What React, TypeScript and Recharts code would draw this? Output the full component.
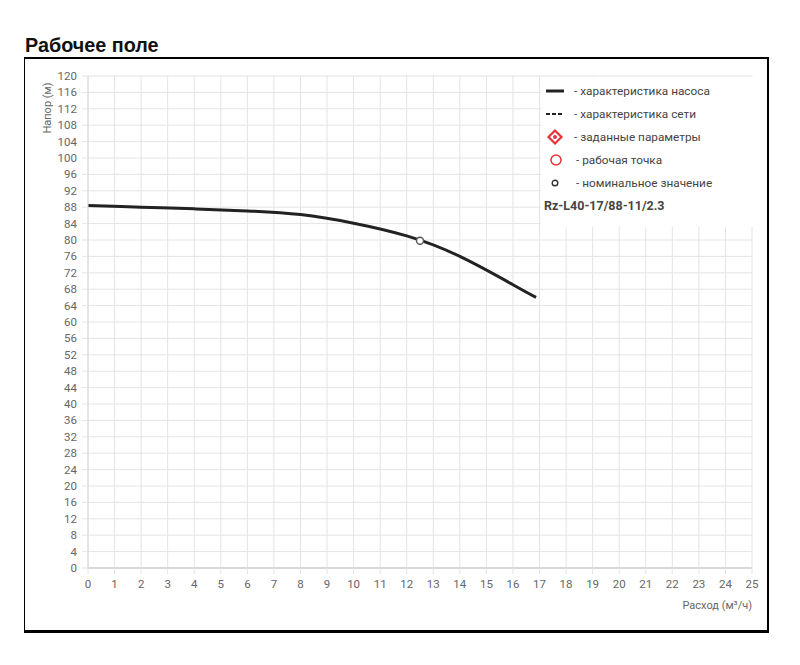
import React from 'react';
import { ComposedChart, Line, Scatter, XAxis, YAxis, CartesianGrid } from 'recharts';

const flowValues = [0, 2, 4, 6, 8, 10, 12, 14, 16, 16.87];
const headValues = [88.4, 88.0, 87.6, 87.1, 86.2, 84.1, 81.0, 76.0, 69.1, 66.0];
const nominalPoint = [{ q: 12.5, h: 79.8 }];
const xTicks = [0, 1, 2, 3, 4, 5, 6, 7, 8, 9, 10, 11, 12, 13, 14, 15, 16, 17, 18, 19, 20, 21, 22, 23, 24, 25];
const yTicks = [0, 4, 8, 12, 16, 20, 24, 28, 32, 36, 40, 44, 48, 52, 56, 60, 64, 68, 72, 76, 80, 84, 88, 92, 96, 100, 104, 108, 112, 116, 120];
const legendLabels = [
  '- характеристика насоса',
  '- характеристика сети',
  '- заданные параметры',
  '- рабочая точка',
  '- номинальное значение',
];
const modelName = 'Rz-L40-17/88-11/2.3';

const pumpData = flowValues.map((q, i) => ({ q, h: headValues[i] }));

const FONT = 'Roboto, "Liberation Sans", Arial, sans-serif';

function LegendIcon({ idx }: { idx: number }) {
  if (idx === 0) {
    return (
      <svg width={22} height={12}>
        <line x1={2} y1={6} x2={20} y2={6} stroke="#222" strokeWidth={3} />
      </svg>
    );
  }
  if (idx === 1) {
    return (
      <svg width={22} height={12}>
        <line x1={2} y1={6} x2={20} y2={6} stroke="#222" strokeWidth={2} strokeDasharray="4 2" />
      </svg>
    );
  }
  if (idx === 2) {
    return (
      <svg width={22} height={16}>
        <polygon points="11,1.5 17.5,8 11,14.5 4.5,8" fill="#fff" stroke="#e8323c" strokeWidth={2.2} />
        <circle cx={11} cy={8} r={2} fill="#e8323c" />
      </svg>
    );
  }
  if (idx === 3) {
    return (
      <svg width={22} height={14}>
        <circle cx={12} cy={7} r={5} fill="none" stroke="#e8323c" strokeWidth={1.5} />
      </svg>
    );
  }
  return (
    <svg width={22} height={12}>
      <circle cx={11} cy={6} r={2.8} fill="none" stroke="#333" strokeWidth={1.4} />
    </svg>
  );
}

function LegendBox() {
  return (
    <div
      style={{
        position: 'absolute',
        left: 541,
        top: 77,
        background: '#fff',
        width: 214,
        height: 150,
        boxSizing: 'border-box',
        paddingLeft: 3,
        paddingTop: 2,
        fontFamily: FONT,
      }}
    >
      {legendLabels.map((t, i) => (
        <div key={i} style={{ display: 'flex', alignItems: 'center', height: 23.2 }}>
          <div style={{ width: 30, display: 'flex' }}>
            <LegendIcon idx={i} />
          </div>
          <span style={{ fontSize: 11.8, color: '#444', marginLeft: i === 3 || i === 4 ? 2 : 0 }}>{t}</span>
        </div>
      ))}
      <div style={{ fontSize: 12.5, fontWeight: 700, color: '#444', marginTop: 3 }}>{modelName}</div>
    </div>
  );
}

export default function App() {
  return (
    <div style={{ position: 'absolute', left: 0, top: 0, width: 800, height: 665, background: '#fff' }}>
      <div
        style={{
          position: 'absolute',
          left: 25,
          top: 34,
          fontFamily: '"Liberation Sans", Arial, sans-serif',
          fontWeight: 700,
          fontSize: 19.8,
          color: '#111',
        }}
      >
        Рабочее поле
      </div>
      <div
        style={{
          position: 'absolute',
          left: 24,
          top: 57,
          width: 745,
          height: 576,
          boxSizing: 'border-box',
          borderTop: '2px solid #000',
          borderLeft: '1.5px solid #000',
          borderRight: '2px solid #000',
          borderBottom: '3px solid #000',
        }}
      />
      <div style={{ position: 'absolute', left: 0, top: 0 }}>
        <ComposedChart
          width={800}
          height={665}
          data={pumpData}
          margin={{ top: 76, right: 48, bottom: 67, left: 0 }}
        >
          <CartesianGrid stroke="#e4e4e4" strokeWidth={1} />
          <XAxis
            dataKey="q"
            type="number"
            domain={[0, 25]}
            ticks={xTicks}
            interval={0}
            height={30}
            tickSize={6}
            tickMargin={6}
            tick={{ fontSize: 11.5, fill: '#666', fontFamily: FONT }}
            axisLine={{ stroke: '#d8d8d8', strokeWidth: 2 }}
            tickLine={{ stroke: '#e4e4e4' }}
            label={{
              value: 'Расход (м³/ч)',
              position: 'insideBottomRight',
              offset: 0,
              dy: 11,
              fontSize: 11,
              fill: '#666',
              fontFamily: FONT,
            }}
          />
          <YAxis
            dataKey="h"
            type="number"
            domain={[0, 120]}
            ticks={yTicks}
            interval={0}
            width={88}
            tickSize={6}
            tickMargin={5}
            tick={{ fontSize: 11.5, fill: '#666', fontFamily: FONT }}
            axisLine={{ stroke: '#d8d8d8', strokeWidth: 1 }}
            tickLine={{ stroke: '#e4e4e4' }}
            label={{
              value: 'Напор (м)',
              angle: -90,
              position: 'insideTopLeft',
              dx: 38,
              dy: 27,
              fontSize: 11,
              fill: '#666',
              fontFamily: FONT,
              textAnchor: 'middle',
            }}
          />
          <Line
            type="natural"
            dataKey="h"
            stroke="#222"
            strokeWidth={3}
            dot={false}
            activeDot={false}
            isAnimationActive={false}
          />
          <Scatter
            data={nominalPoint}
            dataKey="h"
            fill="none"
            isAnimationActive={false}
            shape={(p: any) => (
              <circle cx={p.cx} cy={p.cy} r={3.5} fill="#fff" stroke="#555" strokeWidth={1.4} />
            )}
          />
        </ComposedChart>
      </div>
      <LegendBox />
    </div>
  );
}
